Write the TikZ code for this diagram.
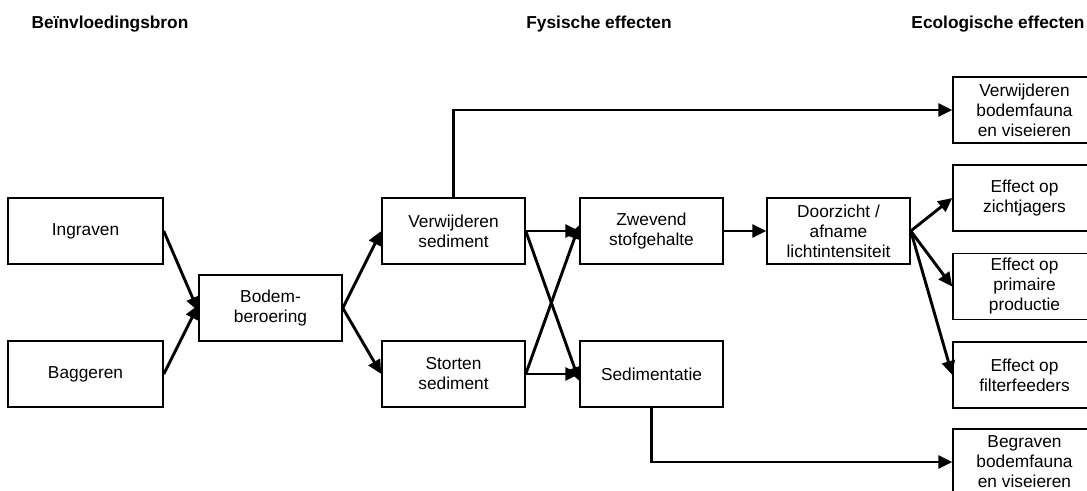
\documentclass[tikz,border=0pt]{standalone}
\usepackage{fontspec}
\setmainfont{Liberation Sans}
\usetikzlibrary{arrows.meta}
\begin{document}
\begin{tikzpicture}[x=1pt,y=-1pt,
  box/.style={draw,line width=1.5pt,minimum width=143pt,minimum height=66pt,inner sep=0pt,align=center,font=\fontsize{17.3}{20}\selectfont},
  wbox/.style={box,minimum width=155pt},
  hdr/.style={font=\fontsize{17.3}{20}\selectfont\bfseries,inner sep=0pt},
  arr/.style={line width=2.9pt,-{Triangle[length=14pt,width=13pt]}}]
\useasboundingbox (0,0) rectangle (1087,490);
\node[hdr] (h1) at (110,24) {Beïnvloedingsbron};
\node[hdr] (h2) at (599,24) {Fysische effecten};
\node[hdr] (h3) at (998,24) {Ecologische effecten};
\node[wbox] (ing) at (85.5,231) {Ingraven};
\node[wbox] (bag) at (85.5,374) {Baggeren};
\node[box] (bod) at (270.5,308) {Bodem-\\beroering};
\node[box] (ver) at (453.5,231) {Verwijderen\\sediment};
\node[box] (sto) at (453.5,374) {Storten\\sediment};
\node[box] (zwe) at (651.5,231) {Zwevend\\stofgehalte};
\node[box] (sed) at (651.5,374) {Sedimentatie};
\node[box] (doo) at (838.5,231) {Doorzicht /\\afname\\lichtintensiteit};
\node[box] (e1) at (1024.5,110) {Verwijderen\\bodemfauna\\en viseieren};
\node[box] (e2) at (1024.5,198) {Effect op\\zichtjagers};
\node[box] (e3) at (1024.5,286.5) {Effect op\\primaire\\productie};
\node[box] (e4) at (1024.5,375) {Effect op\\filterfeeders};
\node[box] (e5) at (1024.5,462) {Begraven\\bodemfauna\\en viseieren};
\draw[arr] (ing.east) -- ([yshift=-3pt]bod.west);
\draw[arr] (bag.east) -- ([yshift=3pt]bod.west);
\draw[arr] (bod.east) -- (ver.west);
\draw[arr] (bod.east) -- (sto.west);
\draw[arr] (ver.east) -- (zwe.west);
\draw[arr] (ver.east) -- ([yshift=-7pt]sed.west);
\draw[arr] (sto.east) -- (sed.west);
\draw[arr] (sto.east) -- ([yshift=6pt]zwe.west);
\draw[arr] (zwe.east) -- (doo.east -| doo.west);
\draw[arr] (doo.east) -- (e2.west);
\draw[arr] (doo.east) -- (e3.west);
\draw[arr] (doo.east) -- (e4.west);
\coordinate (c1) at (ver.north |- e1.west);
\draw[arr] (ver.north) -- (c1) -- (e1.west);
\coordinate (c2) at (sed.south |- e5.west);
\draw[arr] (sed.south) -- (c2) -- (e5.west);
\end{tikzpicture}
\end{document}
